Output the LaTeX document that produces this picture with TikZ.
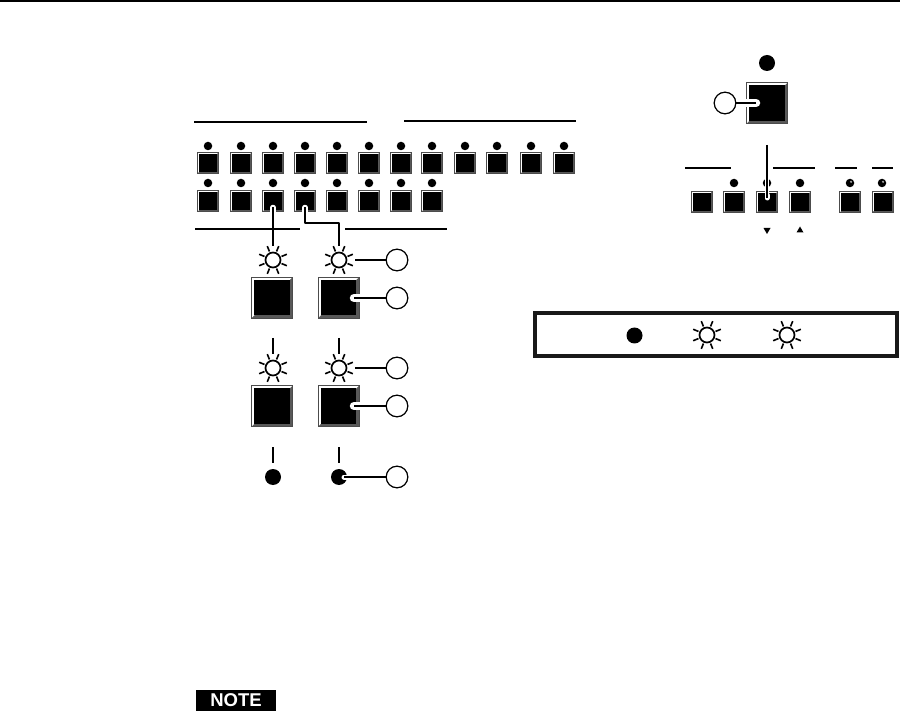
\documentclass[tikz,border=0pt]{standalone}
\usepackage{fontspec}
\setmainfont{Liberation Sans}
\usetikzlibrary{calc}
\tikzset{
  x=1pt,y=-1pt,
  rulel/.style={line width=1.8pt,black},
  thinrule/.style={line width=1.2pt,black},
  conn/.style={line width=2.4pt,black},
  halo/.style={line width=5.5pt,white,line cap=round},
  bighalo/.style={line width=8.5pt,white,line cap=round},
  callout/.style={circle,draw=black,line width=1.1pt,fill=white,minimum size=21.5pt,inner sep=0pt},
  ledd/.style={circle,fill=black,inner sep=0pt,minimum size=8.5pt},
  bigled/.style={circle,fill=black,inner sep=0pt,minimum size=16pt},
  core/.style={circle,draw=black,line width=1.7pt,fill=white,inner sep=0pt,minimum size=15pt},
}
% button: name, centre, half size, bevel
\newcommand{\btn}[4]{%
  \coordinate (#1) at (#2);
  \fill[black!65] ($(#1)+(-#3,-#3)$) rectangle ($(#1)+(#3,#3)$);
  \fill[white] ($(#1)+(-#3+.6,-#3+.6)$) -- ($(#1)+(#3-.6,-#3+.6)$) -- ($(#1)+(#3-#4,-#3+#4)$) -- ($(#1)+(-#3+#4,#3-#4)$) -- ($(#1)+(-#3+.6,#3-.6)$) -- cycle;
  \fill[black] ($(#1)+(-#3+#4,-#3+#4)$) rectangle ($(#1)+(#3-#4,#3-#4)$);
  \draw[black!70,line width=.6pt] ($(#1)+(-#3,-#3)$) rectangle ($(#1)+(#3,#3)$);
}
\newcommand{\sunicon}[2]{%
  \node[core] (#1) at (#2) {};
  \foreach \a in {22.5,67.5,...,337.5}
    \draw[black,line width=1.6pt] (#1) ++(\a:9.2) -- ++(\a:5.8);
}
\begin{document}
\begin{tikzpicture}
\useasboundingbox (0,0) rectangle (900,711);
\draw[line width=2pt] (0,1) -- (900,1);
% rules
\draw[rulel] (194,122) -- (367,122);
\draw[rulel] (404,121) -- (576,121);
\draw[rulel] (195,229) -- (300,229);
\draw[rulel] (345,229) -- (447,229);
% input rows
\foreach \i/\x in {1/208,2/241,3/273,4/305,5/337,6/369,7/401,8/432,9/465,10/497,11/531,12/564}{
  \node[ledd] at (\x,146) {};
  \btn{ta\i}{\x,163}{10.4}{1.4}
}
\foreach \i/\x in {1/208,2/241,3/273,4/305,5/337,6/369,7/401,8/432}{
  \node[ledd] at (\x,183) {};
  \btn{tb\i}{\x,201}{10.4}{1.4}
}
% suns, buttons, dots
\sunicon{s1}{273,260}
\sunicon{s2}{339,260}
\btn{b1}{272,297.5}{20.5}{2.6}
\btn{b2}{338.5,297.5}{20.5}{2.6}
\sunicon{s3}{273,368}
\sunicon{s4}{339,368}
\btn{b3}{272,406}{20.5}{2.6}
\btn{b4}{338.5,406}{20.5}{2.6}
\node[bigled] (d1) at (273,477) {};
\node[bigled] (d2) at (339,477) {};
% callouts
\node[callout] (c1) at (397,260) {};
\node[callout] (c2) at (397,298) {};
\node[callout] (c3) at (397,368) {};
\node[callout] (c4) at (397,406) {};
\node[callout] (c5) at (397,477) {};
\node[callout] (c6) at (725,103) {};
% connectors
\coordinate (j1) at (305,223);
\coordinate (j2) at (339,223);
\draw[halo] (tb3)++(0,6.5) -- ++(0,4);
\draw[halo] (tb4)++(0,6.5) -- ++(0,4);
\draw[conn] (tb3)++(0,6.5) -- (273,246);
\draw[conn,line join=round] (tb4)++(0,6.5) -- (j1) -- (j2) -- (339,246);
\draw[conn] (c1) -- (355,260);
\draw[bighalo] (354,298) -- (361,298);
\draw[conn] (c2) -- (354,298);
\draw[conn] (c3) -- (355,368);
\draw[bighalo] (354,406) -- (361,406);
\draw[conn] (c4) -- (354,406);
\draw[halo,line width=5pt] (344,477) -- (347,477);
\draw[conn] (c5) -- (344,477);
\node[callout] at (c1) {};
\node[callout] at (c2) {};
\node[callout] at (c3) {};
\node[callout] at (c4) {};
\node[callout] at (c5) {};
\coordinate (v1) at (273,338); \coordinate (v2) at (273,354);
\coordinate (v3) at (339,338); \coordinate (v4) at (339,354);
\coordinate (v5) at (273,447); \coordinate (v6) at (273,463);
\coordinate (v7) at (339,447); \coordinate (v8) at (339,463);
\draw[conn] (v1) -- (v2); \draw[conn] (v3) -- (v4);
\draw[conn] (v5) -- (v6); \draw[conn] (v7) -- (v8);
% right panel
\node[bigled] at (767,63) {};
\btn{m}{767,103}{20.5}{2.6}
\draw[bighalo] (756,103) -- (745,103);
\draw[conn] (c6) -- (756,103);
\node[callout] at (c6) {};
\draw[thinrule] (685,168) -- (730.5,168);
\draw[thinrule] (773,168) -- (815,168);
\draw[thinrule] (835,168) -- (857,168);
\draw[thinrule] (872,168) -- (893,168);
\foreach \i/\x in {1/701.5,2/734,3/767,4/800,5/850,6/882.5}{\btn{r\i}{\x,202}{10.4}{1.4}}
\node[ledd] at (734,183) {};
\node[ledd] at (767,183) {};
\node[ledd] at (800,183) {};
\node[ledd] (l5) at (850,183) {};
\node[ledd] (l6) at (882,183) {};
\fill[black!35] (851,181.8) circle (1.2);
\fill[black!35] (883,181.8) circle (1.2);
\draw[line width=4.5pt,white] (767,145) -- (767,195);
\draw[halo,line width=5pt] (767,195) -- (767,198);
\draw[line width=2pt] (767,145) -- (767,198);
\fill (763.5,228) -- (770.5,228) -- (767,234) -- cycle;
\fill (796.5,232.5) -- (803.5,232.5) -- (800,226.5) -- cycle;
% legend
\draw[line width=4pt,black!90] (535,313) rectangle (896.5,356);
\node[bigled] at (634.5,335.5) {};
\sunicon{s5}{707,335}
\sunicon{s6}{787,335}
% note
\node[fill=black,text=white,font=\bfseries,inner sep=0pt,minimum width=80pt,minimum height=21pt] (nt) at (236,700.5) {\fontsize{18.5}{19}\selectfont NOTE};
\end{tikzpicture}
\end{document}
